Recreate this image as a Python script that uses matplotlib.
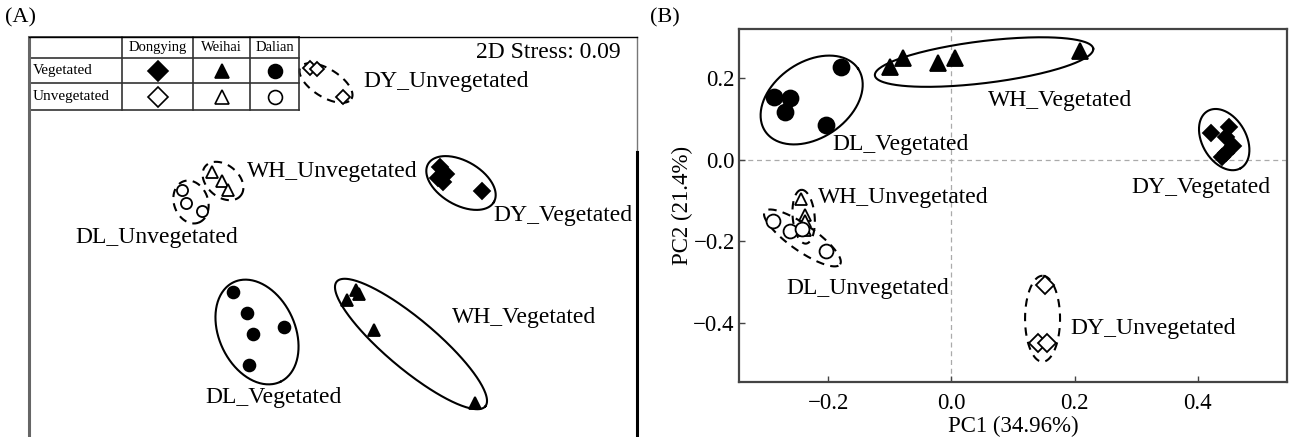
import numpy as np
import matplotlib
matplotlib.use('Agg')
import matplotlib.pyplot as plt
from matplotlib.ticker import FuncFormatter

plt.rcParams['font.family'] = ['Liberation Serif', 'DejaVu Sans']

# (A) NMDS scores, one (x, y) pair of lists per group
nmds_dy_veg = ([0.535, 0.563, 0.527, 0.548, 0.743], [0.352, 0.313, 0.297, 0.277, 0.230])
nmds_wh_veg = ([0.115, 0.130, 0.070, 0.205, 0.710], [-0.265, -0.285, -0.315, -0.465, -0.830])
nmds_dl_veg = ([-0.500, -0.430, -0.400, -0.245, -0.420], [-0.275, -0.380, -0.485, -0.450, -0.640])
nmds_dy_unveg = ([-0.115, -0.080, 0.050], [0.845, 0.840, 0.700])
nmds_wh_unveg = ([-0.605, -0.555, -0.525], [0.325, 0.280, 0.235])
nmds_dl_unveg = ([-0.755, -0.735, -0.655], [0.235, 0.170, 0.130])
stress = 0.09

# (B) PCA scores
pca_dy_veg = ([0.422, 0.450, 0.446, 0.457, 0.446, 0.440], [0.066, 0.080, 0.055, 0.033, 0.016, 0.006])
pca_wh_veg = ([-0.099, -0.078, -0.021, 0.006, 0.209], [0.226, 0.249, 0.236, 0.250, 0.265])
pca_dl_veg = ([-0.288, -0.262, -0.270, -0.204, -0.179], [0.154, 0.150, 0.116, 0.084, 0.228])
pca_dy_unveg = ([0.152, 0.140, 0.156], [-0.308, -0.450, -0.450])
pca_wh_unveg = ([-0.245, -0.237, -0.238, -0.238], [-0.097, -0.135, -0.150, -0.173])
pca_dl_unveg = ([-0.290, -0.262, -0.242, -0.204], [-0.150, -0.174, -0.170, -0.223])
pc1_var = 34.96
pc2_var = 21.4

sites = ['Dongying', 'Weihai', 'Dalian']
habitats = ['Vegetated', 'Unvegetated']
site_marker = {'Dongying': 'D', 'Weihai': '^', 'Dalian': 'o'}

W, H = 1290, 437
fig = plt.figure(figsize=(W / 100, H / 100), dpi=100)


def add_axes_px(left, top, right, bottom):
    return fig.add_axes([left / W, 1 - bottom / H, (right - left) / W, (bottom - top) / H])


def ring(ax, cx, cy, a, b, ang, dashed=False):
    # ellipse with semi-axes a, b given in screen pixels
    pos = ax.get_position()
    wpx, hpx = pos.width * W, pos.height * H
    x0, x1 = ax.get_xlim()
    y0, y1 = ax.get_ylim()
    t = np.linspace(0, 2 * np.pi, 240)
    th = np.radians(ang)
    u, v = a * np.cos(t), b * np.sin(t)
    dx = u * np.cos(th) - v * np.sin(th)
    dy = u * np.sin(th) + v * np.cos(th)
    ax.plot(cx + dx * (x1 - x0) / wpx, cy + dy * (y1 - y0) / hpx, color='black',
            lw=1.5, ls=(0, (4, 3)) if dashed else '-', zorder=2)


def scatter(ax, pts, site, filled, ms):
    ax.plot(pts[0], pts[1], ls='none', marker=site_marker[site], ms=ms,
            mfc='black' if filled else 'white', mec='black', mew=1.3, zorder=3)


# ---------------- (A) NMDS ----------------
axA = add_axes_px(29, 37, 637, 437)
axA.set_xlim(-1.52, 1.52)
axA.set_ylim(-1.0, 1.0)
axA.set_xticks([])
axA.set_yticks([])
for s in ['bottom', 'right']:
    axA.spines[s].set_visible(False)
axA.spines['left'].set_color('#666666')
axA.spines['left'].set_linewidth(2.2)
axA.spines['top'].set_linewidth(1.0)
axA.plot([1, 1], [1, 0.7125], transform=axA.transAxes, color='#777777', lw=1, clip_on=False)
axA.plot([1, 1], [0.7125, 0], transform=axA.transAxes, color='black', lw=2.2, clip_on=False)

scatter(axA, nmds_dy_veg, 'Dongying', True, 8)
scatter(axA, nmds_wh_veg, 'Weihai', True, 8)
scatter(axA, nmds_dl_veg, 'Dalian', True, 8.5)
scatter(axA, nmds_dy_unveg, 'Dongying', False, 7)
scatter(axA, nmds_wh_unveg, 'Weihai', False, 8)
scatter(axA, nmds_dl_unveg, 'Dalian', False, 8)

ring(axA, -0.035, 0.77, 30, 14, -32, dashed=True)
ring(axA, -0.55, 0.28, 23, 16, -40, dashed=True)
ring(axA, -0.71, 0.175, 22, 17, -70, dashed=True)
ring(axA, 0.64, 0.27, 38, 22, -30)
ring(axA, -0.38, -0.475, 55, 38, -65)
ring(axA, 0.39, -0.535, 97, 25, -40)

lab = dict(fontsize=17, va='center', ha='left')
axA.text(0.15, 0.775, 'DY_Unvegetated', **lab)
axA.text(-0.43, 0.325, 'WH_Unvegetated', **lab)
axA.text(0.80, 0.11, 'DY_Vegetated', **lab)
axA.text(-1.29, -0.005, 'DL_Unvegetated', **lab)
axA.text(0.595, -0.40, 'WH_Vegetated', **lab)
axA.text(-0.64, -0.80, 'DL_Vegetated', **lab)
axA.text(1.44, 0.92, f'2D Stress: {stress:.2f}', fontsize=17, ha='right', va='center')

# symbol key drawn as a small table in the corner
col_px = [29, 122, 193, 250, 299]
row_px = [37, 58, 83, 110]
cx = [(c - 29) / 608 for c in col_px]
ry = [(437 - r) / 400 for r in row_px]
for x in cx:
    axA.plot([x, x], [ry[0], ry[-1]], transform=axA.transAxes, color='#333333', lw=1.2, clip_on=False)
for y in ry:
    axA.plot([cx[0], cx[-1]], [y, y], transform=axA.transAxes, color='#333333', lw=1.2, clip_on=False)
for j, site in enumerate(sites):
    xm = (cx[j + 1] + cx[j + 2]) / 2
    axA.text(xm, (ry[0] + ry[1]) / 2, site, transform=axA.transAxes, fontsize=10.5, ha='center', va='center')
    for i, hab in enumerate(habitats):
        ym = (ry[i + 1] + ry[i + 2]) / 2
        axA.plot([xm], [ym], transform=axA.transAxes, ls='none', marker=site_marker[site], ms=10,
                 mfc='black' if hab == 'Vegetated' else 'white', mec='black', mew=1.2)
for i, hab in enumerate(habitats):
    axA.text(cx[0] + 0.006, (ry[i + 1] + ry[i + 2]) / 2, hab, transform=axA.transAxes,
             fontsize=11, ha='left', va='center')

fig.text(5 / W, 1 - 18 / H, '(A)', fontsize=16, ha='left', va='center')

# ---------------- (B) PCA ----------------
axB = add_axes_px(739, 29, 1287, 382)
axB.set_xlim(-0.345, 0.545)
axB.set_ylim(-0.545, 0.32)
axB.axvline(0, color='#aaaaaa', lw=0.9, ls=(0, (4, 3)), zorder=1)
axB.axhline(0, color='#aaaaaa', lw=0.9, ls=(0, (4, 3)), zorder=1)

scatter(axB, pca_dy_veg, 'Dongying', True, 8.5)
scatter(axB, pca_wh_veg, 'Weihai', True, 11)
scatter(axB, pca_dl_veg, 'Dalian', True, 11.5)
scatter(axB, pca_dy_unveg, 'Dongying', False, 9)
scatter(axB, pca_wh_unveg, 'Weihai', False, 9)
scatter(axB, pca_dl_unveg, 'Dalian', False, 10)

ring(axB, -0.227, 0.146, 56, 38, 34)
ring(axB, 0.053, 0.239, 110, 21, 7)
ring(axB, 0.443, 0.049, 33, 22, -60)
ring(axB, -0.240, -0.140, 27, 11, 95, dashed=True)
ring(axB, -0.242, -0.192, 46, 13, -35, dashed=True)
ring(axB, 0.148, -0.390, 43, 17.5, 90, dashed=True)

axB.text(0.060, 0.146, 'WH_Vegetated', **lab)
axB.text(-0.194, 0.036, 'DL_Vegetated', **lab)
axB.text(0.293, -0.068, 'DY_Vegetated', **lab)
axB.text(-0.216, -0.094, 'WH_Unvegetated', **lab)
axB.text(-0.268, -0.316, 'DL_Unvegetated', **lab)
axB.text(0.193, -0.413, 'DY_Unvegetated', **lab)

tick_fmt = FuncFormatter(lambda v, _: f'{v:.1f}'.replace('-', '\u2212'))
axB.set_xticks([-0.2, 0.0, 0.2, 0.4])
axB.set_yticks([-0.4, -0.2, 0.0, 0.2])
axB.xaxis.set_major_formatter(tick_fmt)
axB.yaxis.set_major_formatter(tick_fmt)
axB.tick_params(direction='in', length=4, width=1, labelsize=16.5, color='#444444')
axB.tick_params(axis='x', pad=8)
axB.tick_params(axis='y', pad=3)
for s in axB.spines.values():
    s.set_color('#444444')
    s.set_linewidth(1.6)
axB.set_xlabel(f'PC1 ({pc1_var:.2f}%)', fontsize=16.5, labelpad=1)
axB.set_ylabel(f'PC2 ({pc2_var}%)', fontsize=16.5, labelpad=0)

fig.text(650 / W, 1 - 18 / H, '(B)', fontsize=16, ha='left', va='center')

fig.savefig('out.png', dpi=100)
